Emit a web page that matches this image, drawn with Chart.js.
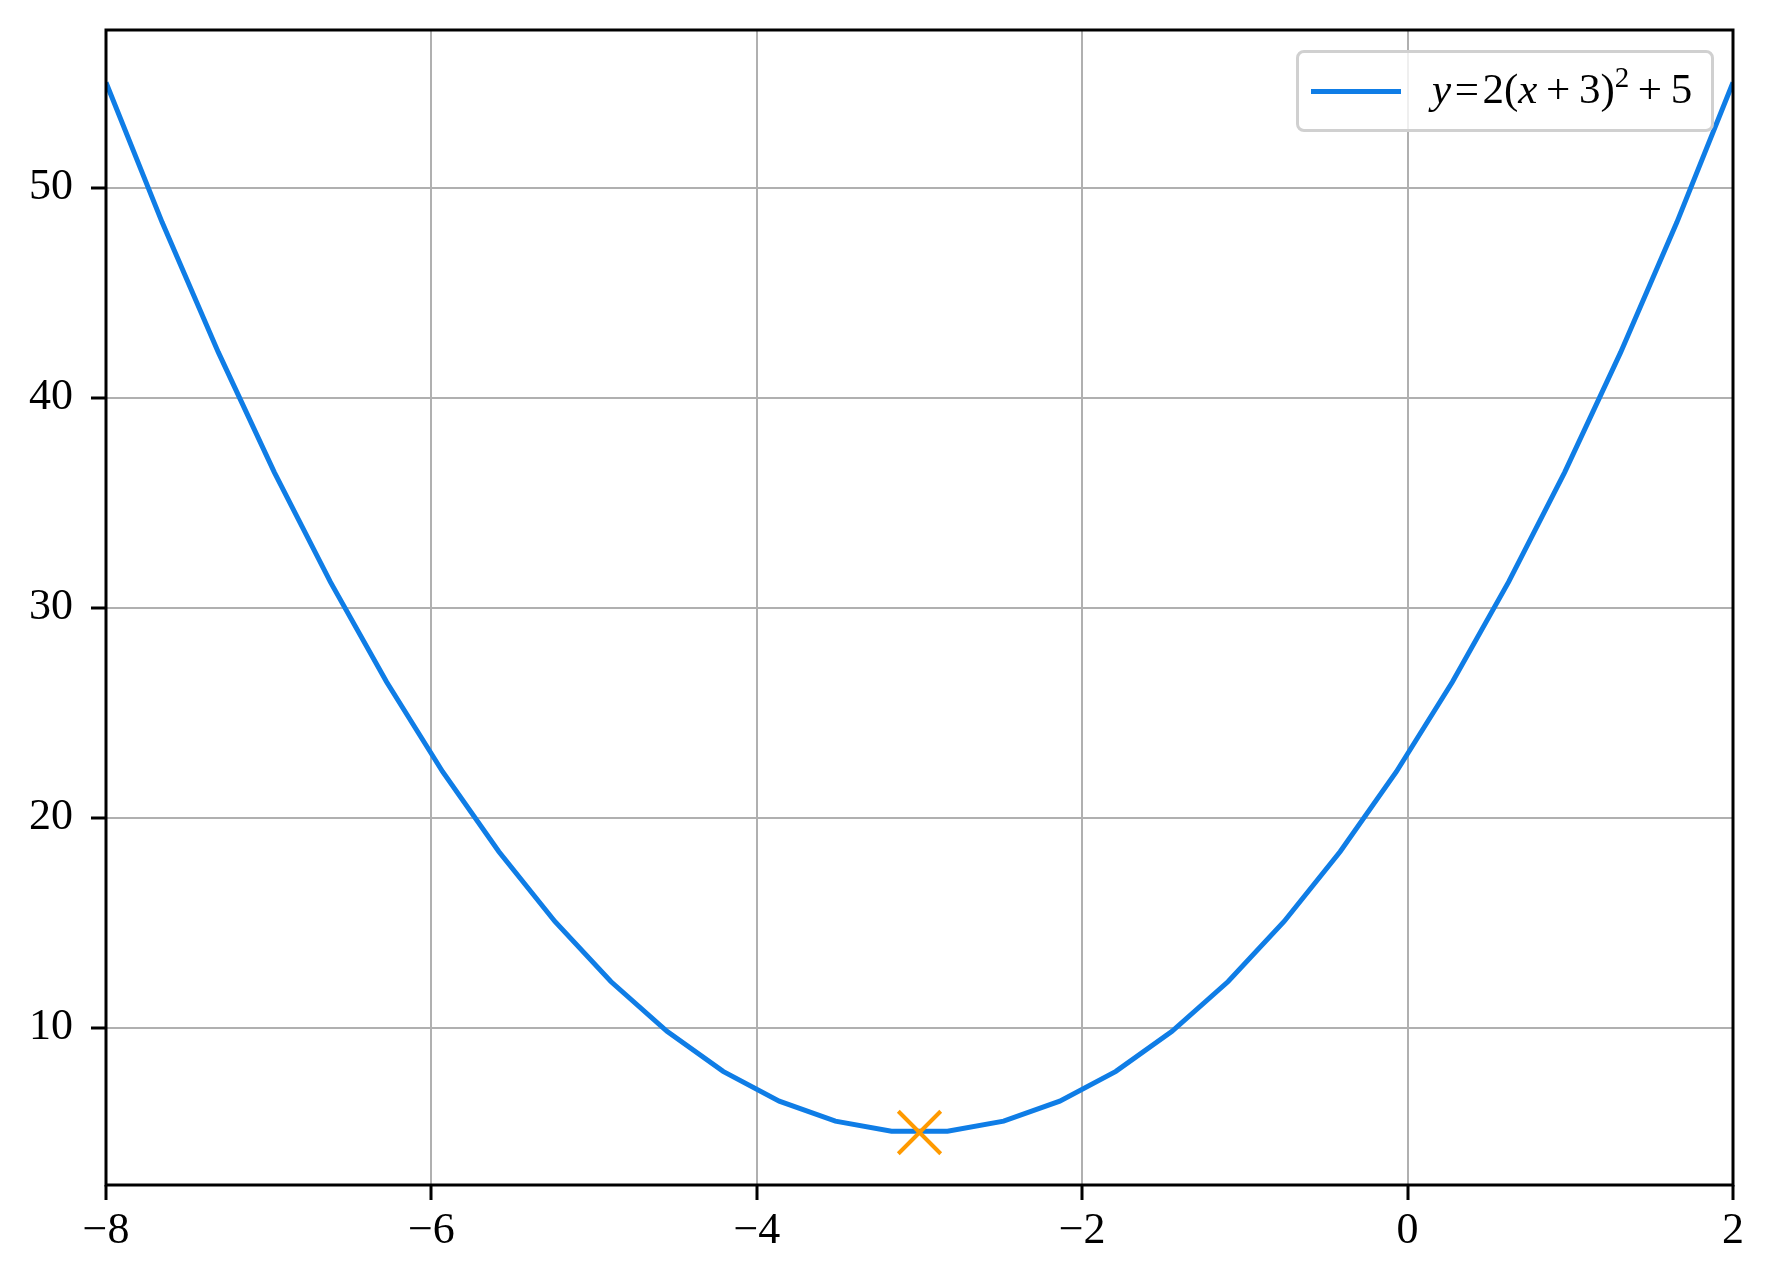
<!DOCTYPE html>
<html>
<head>
<meta charset="utf-8">
<script src="https://cdn.jsdelivr.net/npm/chart.js@4"></script>
<style>
  html, body { margin: 0; padding: 0; background: #fff; }
  #wrap { position: relative; width: 1774px; height: 1286px; }
  #legend {
    position: absolute;
    box-sizing: border-box;
    width: 418px; height: 82px;
    background: rgba(255,255,255,0.8);
    border: 3px solid #d0d0d0;
    border-radius: 8px;
    font-family: 'Liberation Serif', serif;
    font-size: 43px;
    color: #000;
  }
  #legend .swatch {
    position: absolute; left: 12px; top: 36px;
    width: 90px; height: 5px; background: #0f7de6;
  }
  #legend .label {
    position: absolute; left: 133px; top: 11px;
    white-space: nowrap; line-height: 50px;
  }
  #legend i { font-style: italic; }
  #legend sup { font-size: 29px; vertical-align: 0; position: relative; top: -16px; }
</style>
</head>
<body>
<div id="wrap">
  <canvas id="chart" width="1774" height="1286"></canvas>
  <div id="legend">
    <div class="swatch"></div>
    <div class="label"><i>y</i>&#8202;=&#8202;2(<i>x</i>&#8201;+&#8201;3)<sup>2</sup>&#8201;+&#8201;5</div>
  </div>
</div>
<script>
const X_VALUES = [-8, -7.655, -7.310, -6.966, -6.621, -6.276, -5.931, -5.586, -5.241, -4.897,
                  -4.552, -4.207, -3.862, -3.517, -3.172, -2.828, -2.483, -2.138, -1.793, -1.448,
                  -1.103, -0.759, -0.414, -0.069, 0.276, 0.621, 0.966, 1.310, 1.655, 2];
const Y_VALUES = [55, 48.34, 42.16, 36.45, 31.22, 26.46, 22.18, 18.38, 15.05, 12.19,
                  9.82, 7.91, 6.49, 5.54, 5.06, 5.06, 5.54, 6.49, 7.91, 9.82,
                  12.19, 15.05, 18.38, 22.18, 26.46, 31.22, 36.45, 42.16, 48.34, 55];
const VERTEX = [{ x: -3, y: 5 }];
const X_TICKS = [-8, -6, -4, -2, 0, 2];
const Y_TICKS = [10, 20, 30, 40, 50];

const FONT = { family: "'Liberation Serif', serif", size: 44 };

// black frame round the plot area, like the matplotlib spines
const framePlugin = {
  id: 'frame',
  afterDraw(chart) {
    const { ctx, chartArea: a } = chart;
    ctx.save();
    ctx.strokeStyle = '#000';
    ctx.lineWidth = 3;
    ctx.strokeRect(a.left, a.top, a.right - a.left, a.bottom - a.top);
    ctx.restore();
    const lg = document.getElementById('legend');
    lg.style.left = (a.right - 19 - 418) + 'px';
    lg.style.top = (a.top + 20) + 'px';
  }
};

new Chart(document.getElementById('chart'), {
  type: 'scatter',
  data: {
    datasets: [
      {
        label: 'vertex',
        data: VERTEX,
        pointStyle: 'crossRot',
        pointRadius: 30,
        borderColor: '#ff9a00',
        backgroundColor: '#ff9a00',
        pointBorderWidth: 4
      },
      {
        label: 'y=2(x+3)^2+5',
        data: X_VALUES.map((x, i) => ({ x, y: Y_VALUES[i] })),
        showLine: true,
        borderColor: '#0f7de6',
        borderWidth: 5,
        pointRadius: 0,
        tension: 0
      }
    ]
  },
  options: {
    responsive: false,
    animation: false,
    layout: { autoPadding: false, padding: { top: 30, right: 41, left: 0, bottom: 0 } },
    plugins: { legend: { display: false }, tooltip: { enabled: false } },
    scales: {
      x: {
        type: 'linear',
        min: -8, max: 2,
        afterBuildTicks: s => { s.ticks = X_TICKS.map(v => ({ value: v })); },
        afterFit: s => { s.height = 101; s.paddingLeft = 0; s.paddingRight = 0; },
        border: { display: false },
        grid: { color: '#b0b0b0', lineWidth: 2, tickColor: '#000', tickLength: 15, tickWidth: 3 },
        ticks: {
          color: '#000', font: FONT, padding: 5, maxRotation: 0,
          callback: v => String(v).replace('-', '\u2212')
        }
      },
      y: {
        type: 'linear',
        min: 2.5, max: 57.5,
        afterBuildTicks: s => { s.ticks = Y_TICKS.map(v => ({ value: v })); },
        afterFit: s => { s.width = 106; s.paddingTop = 0; s.paddingBottom = 0; },
        border: { display: false },
        grid: { color: '#b0b0b0', lineWidth: 2, tickColor: '#000', tickLength: 15, tickWidth: 3 },
        ticks: { color: '#000', font: FONT, padding: 18 }
      }
    }
  },
  plugins: [framePlugin]
});
</script>
</body>
</html>
